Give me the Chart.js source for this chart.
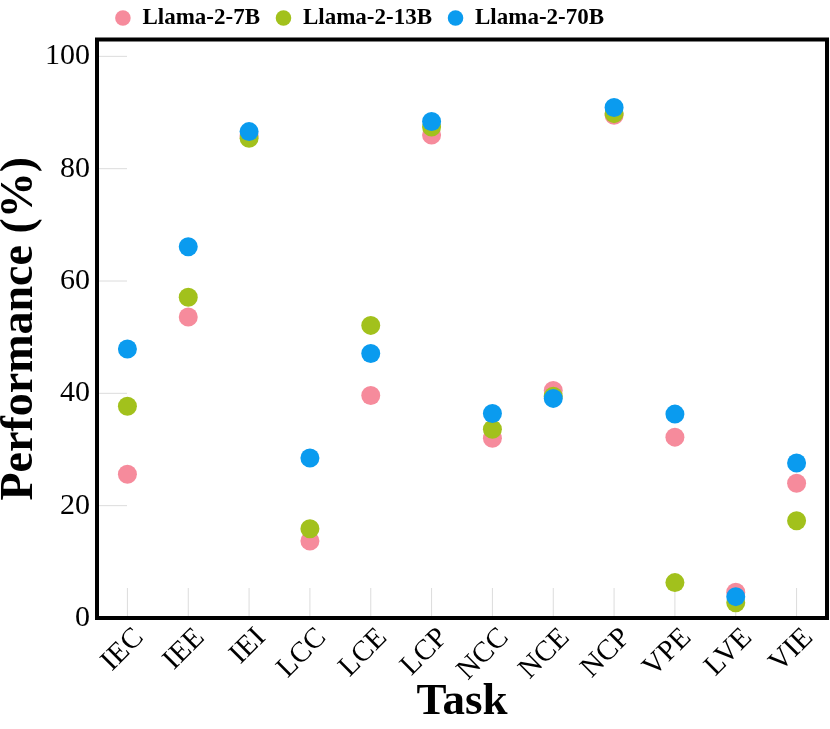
<!DOCTYPE html>
<html lang="en">

<head>
    <meta charset="UTF-8">
    <title>Llama-2 Task Performance</title>
    <script src="https://cdn.jsdelivr.net/npm/chart.js"></script>
    <style>
        body {
            margin: 0;
            overflow: hidden;
            background: #ffffff;
        }

        .chart-container {
            width: 830px;
            height: 729px;
        }
    </style>
</head>

<body>
    <div class="chart-container">
        <canvas id="taskChart"></canvas>
    </div>

    <script>
        const tasks = ['IEC', 'IEE', 'IEI', 'LCC', 'LCE', 'LCP', 'NCC', 'NCE', 'NCP', 'VPE', 'LVE', 'VIE'];
        const llama7b = [25.6, 53.6, 85.8, 13.7, 39.6, 86.0, 32.0, 40.5, 89.5, 32.2, 4.6, 24.0];
        const llama13b = [37.7, 57.1, 85.4, 15.9, 52.1, 87.4, 33.6, 39.5, 89.8, 6.3, 2.7, 17.3];
        const llama70b = [47.9, 66.1, 86.6, 28.5, 47.1, 88.4, 36.4, 39.1, 90.9, 36.3, 3.8, 27.6];
        const yTicks = [0, 20, 40, 60, 80, 100];

        const serif = "'Liberation Serif', 'Times New Roman', serif";

        // short grid stubs on the left, inside ticks on the bottom, and a box frame
        const framePlugin = {
            id: 'frame',
            afterLayout(chart) {
                // legend in the original sits left of centre
                chart.legend.left -= 54;
                chart.legend.right -= 54;
            },
            beforeDatasetsDraw(chart) {
                const { ctx, chartArea, scales } = chart;
                ctx.save();
                ctx.strokeStyle = '#dcdcdc';
                ctx.lineWidth = 1;
                yTicks.forEach(v => {
                    const y = scales.y.getPixelForValue(v);
                    ctx.beginPath();
                    ctx.moveTo(chartArea.left, y);
                    ctx.lineTo(chartArea.left + 30, y);
                    ctx.stroke();
                });
                tasks.forEach((t, i) => {
                    const x = scales.x.getPixelForValue(i);
                    ctx.beginPath();
                    ctx.moveTo(x, chartArea.bottom);
                    ctx.lineTo(x, chartArea.bottom - 30);
                    ctx.stroke();
                });
                ctx.restore();
            },
            afterDraw(chart) {
                const { ctx, chartArea } = chart;
                ctx.save();
                ctx.strokeStyle = '#000000';
                ctx.lineWidth = 4;
                ctx.strokeRect(chartArea.left, chartArea.top, chartArea.right - chartArea.left, chartArea.bottom - chartArea.top);
                ctx.restore();
            }
        };

        const data = {
            labels: tasks,
            datasets: [
                {
                    label: 'Llama-2-7B',
                    data: llama7b,
                    backgroundColor: '#F68B9C',
                    borderColor: '#F68B9C',
                    order: 3
                },
                {
                    label: 'Llama-2-13B',
                    data: llama13b,
                    backgroundColor: '#A2C11C',
                    borderColor: '#A2C11C',
                    order: 2
                },
                {
                    label: 'Llama-2-70B',
                    data: llama70b,
                    backgroundColor: '#0A9BEF',
                    borderColor: '#0A9BEF',
                    order: 1
                }
            ]
        };

        const config = {
            type: 'line',
            data: data,
            plugins: [framePlugin],
            options: {
                responsive: true,
                maintainAspectRatio: false,
                animation: false,
                showLine: false,
                elements: {
                    point: {
                        radius: 9.5,
                        hoverRadius: 9.5,
                        borderWidth: 0
                    }
                },
                layout: {
                    autoPadding: false,
                    padding: { top: -9, right: 3, left: 0, bottom: 0 }
                },
                scales: {
                    x: {
                        offset: true,
                        grid: { display: false, drawTicks: false },
                        border: { display: false },
                        ticks: {
                            color: '#000000',
                            font: { family: serif, size: 29 },
                            minRotation: 45,
                            maxRotation: 45,
                            labelOffset: 12,
                            padding: 3
                        },
                        title: {
                            display: true,
                            text: 'Task',
                            color: '#000000',
                            font: { family: serif, size: 45, weight: 'bold', lineHeight: 1 },
                            padding: { top: 0, bottom: 4 }
                        },
                        afterFit(scale) {
                            scale.height = 111;
                            scale.paddingLeft = 0;
                            scale.paddingRight = 0;
                        }
                    },
                    y: {
                        min: 0,
                        max: 103,
                        grid: { display: false, drawTicks: false },
                        border: { display: false },
                        ticks: {
                            color: '#000000',
                            font: { family: serif, size: 30 },
                            stepSize: 20,
                            padding: 7
                        },
                        afterBuildTicks(scale) {
                            scale.ticks = yTicks.map(v => ({ value: v }));
                        },
                        title: {
                            display: true,
                            text: 'Performance (%)',
                            color: '#000000',
                            font: { family: serif, size: 46, weight: 'bold', lineHeight: 1 },
                            padding: { top: -3, bottom: 0 }
                        },
                        afterFit(scale) {
                            scale.width = 97;
                            scale.paddingTop = 0;
                            scale.paddingBottom = 0;
                        }
                    }
                },
                plugins: {
                    legend: {
                        position: 'top',
                        labels: {
                            color: '#000000',
                            font: { family: serif, size: 23, weight: 'bold' },
                            usePointStyle: true,
                            pointStyle: 'circle',
                            boxWidth: 16,
                            boxHeight: 11,
                            padding: 15.5,
                            sort: (a, b) => a.datasetIndex - b.datasetIndex
                        }
                    },
                    tooltip: { enabled: false }
                }
            }
        };

        const ctx = document.getElementById('taskChart').getContext('2d');
        const taskChart = new Chart(ctx, config);
    </script>
</body>

</html>
